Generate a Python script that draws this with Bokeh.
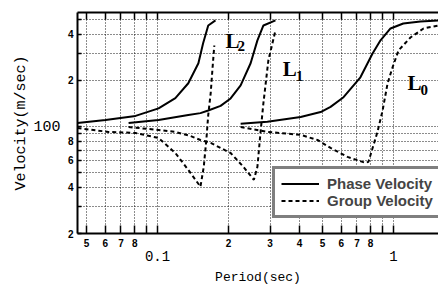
from bokeh.plotting import figure
from bokeh.models import (LogAxis, FixedTicker, CustomJSTickFormatter, Range1d,
                          Legend, LegendItem, Label)
from bokeh.embed import file_html
from bokeh.resources import INLINE

# ---- data ----
l2_phase_x = [0.0458, 0.0602, 0.0807, 0.101, 0.119, 0.135, 0.149, 0.156, 0.164, 0.176]
l2_phase_y = [105, 110, 117, 131, 153, 191, 258, 348, 455, 491]

l2_group_x = [0.0458, 0.0620, 0.0807, 0.101, 0.119, 0.135, 0.152, 0.157, 0.161, 0.164, 0.168, 0.171, 0.174]
l2_group_y = [97.5, 92, 90.5, 84, 67, 52, 40.4, 54.5, 81.5, 118.5, 165, 239, 337]

l1_phase_x = [0.0754, 0.101, 0.135, 0.152, 0.164, 0.185, 0.204, 0.225, 0.248, 0.265, 0.281, 0.316]
l1_phase_y = [105, 110, 118.5, 122, 127, 136, 152, 185, 258, 364, 455, 491]

l1_group_x = [0.0754, 0.101, 0.119, 0.138, 0.152, 0.168, 0.204, 0.231, 0.256, 0.265, 0.273, 0.281, 0.295, 0.311, 0.316]
l1_group_y = [99, 94.7, 92, 86.5, 81.5, 78, 67, 54.5, 44.8, 54.5, 90.5, 142, 270, 380, 422]

l0_phase_x = [0.225, 0.292, 0.404, 0.491, 0.541, 0.614, 0.724, 0.815, 0.881, 0.971, 1.10, 1.30, 1.55]
l0_phase_y = [104, 107, 115, 124, 134, 155, 209, 299, 364, 435, 469, 483, 491]

l0_group_x = [0.225, 0.292, 0.404, 0.476, 0.541, 0.638, 0.761, 0.783, 0.855, 0.898, 0.944, 0.991, 1.05, 1.18, 1.34, 1.55]
l0_group_y = [99, 92, 88, 81.5, 72.3, 63.2, 57.8, 58.7, 92, 126, 191, 243, 313, 380, 435, 455]

curve_names = ["L2", "L1", "L0"]
curve_label_main = ["L", "L", "L"]
curve_label_sub = ["2", "1", "0"]
curve_label_x = [0.194, 0.339, 1.146]
curve_label_y = [358, 235, 191]
curve_sub_x = [0.218, 0.385, 1.30]
curve_sub_y = [332, 212, 172]

x_ticks = [0.05, 0.06, 0.07, 0.08, 0.09, 0.1, 0.2, 0.3, 0.4, 0.5, 0.6, 0.7, 0.8, 0.9, 1.0]
x_tick_labels = ["5", "6", "7", "8", "", "", "2", "3", "4", "5", "6", "7", "8", "", ""]
x_major = [0.1, 1.0]
x_major_labels = ["0.1", "1"]
y_ticks = [20, 30, 40, 50, 60, 70, 80, 90, 100, 200, 300, 400, 500]
y_tick_labels = ["2", "", "4", "", "6", "", "8", "", "", "2", "", "4", ""]
y_major = [100]
y_major_labels = ["100"]

legend_labels = ["Phase Velocity", "Group Velocity"]


def fmt(tick_values, tick_texts):
    return CustomJSTickFormatter(args=dict(tv=tick_values, tl=tick_texts), code="""
for (let i = 0; i < tv.length; i++) {
  if (Math.abs(tv[i] - tick) <= 1e-6 * Math.abs(tv[i])) return tl[i];
}
return "";
""")


p = figure(width=438, height=287, x_axis_type="log", y_axis_type="log",
           x_range=Range1d(0.0458, 1.551), y_range=Range1d(20, 553),
           output_backend="svg", toolbar_location=None,
           min_border_left=77, min_border_right=0, min_border_top=12, min_border_bottom=0)
p.outline_line_color = None
p.background_fill_color = "white"

small_font = "Liberation Sans"

# inner x axis (small labels)
xa = p.xaxis[0]
xa.ticker = FixedTicker(ticks=x_ticks, minor_ticks=[])
xa.formatter = fmt(x_ticks, x_tick_labels)
xa.major_tick_in = 8
xa.major_tick_out = 0
xa.minor_tick_in = 0
xa.minor_tick_out = 0
xa.axis_line_width = 2
xa.major_tick_line_width = 1.5
xa.major_label_standoff = 5
xa.major_label_text_font = small_font
xa.major_label_text_font_style = "bold"
xa.major_label_text_font_size = "10px"
xa.major_label_text_color = "black"

# outer x axis (0.1, 1) with title
xo = LogAxis(ticker=FixedTicker(ticks=x_major, minor_ticks=[]),
             formatter=fmt(x_major, x_major_labels),
             axis_line_color=None, major_tick_line_color=None, minor_tick_line_color=None,
             major_tick_in=0, major_tick_out=0, minor_tick_in=0, minor_tick_out=0,
             major_label_standoff=1,
             major_label_text_font="Liberation Mono", major_label_text_font_size="14px",
             major_label_text_color="black",
             axis_label="Period(sec)", axis_label_standoff=6,
             axis_label_text_font="Liberation Mono", axis_label_text_font_size="13px",
             axis_label_text_font_style="normal", axis_label_text_color="black")
p.add_layout(xo, "below")

# top axis (ticks only)
xt = LogAxis(ticker=FixedTicker(ticks=x_ticks, minor_ticks=[]),
             formatter=fmt(x_ticks, ["" for _ in x_ticks]),
             axis_line_width=2, major_tick_in=7, major_tick_out=0,
             minor_tick_in=0, minor_tick_out=0, major_tick_line_width=1.5,
             major_label_standoff=0, major_label_text_font_size="0px")
p.add_layout(xt, "above")

# inner y axis
ya = p.yaxis[0]
ya.ticker = FixedTicker(ticks=y_ticks, minor_ticks=[])
ya.formatter = fmt(y_ticks, y_tick_labels)
ya.major_tick_in = 4
ya.major_tick_out = 0
ya.minor_tick_in = 0
ya.minor_tick_out = 0
ya.axis_line_width = 2
ya.major_tick_line_width = 1.5
ya.major_label_standoff = 4
ya.major_label_text_font = small_font
ya.major_label_text_font_style = "bold"
ya.major_label_text_font_size = "10px"
ya.major_label_text_color = "black"

yo = LogAxis(ticker=FixedTicker(ticks=y_major, minor_ticks=[]),
             formatter=fmt(y_major, y_major_labels),
             axis_line_color=None, major_tick_line_color=None, minor_tick_line_color=None,
             major_tick_in=0, major_tick_out=0, minor_tick_in=0, minor_tick_out=0,
             major_label_standoff=4,
             major_label_text_font="Liberation Mono", major_label_text_font_size="15px",
             major_label_text_color="black",
             axis_label="Velocity(m/sec)", axis_label_standoff=0,
             axis_label_text_font="Liberation Mono", axis_label_text_font_size="15px",
             axis_label_text_font_style="normal", axis_label_text_color="black")
p.add_layout(yo, "left")

# grids
p.xgrid.ticker = FixedTicker(ticks=x_ticks, minor_ticks=[])
p.ygrid.ticker = FixedTicker(ticks=y_ticks, minor_ticks=[])
for g in (p.xgrid[0], p.ygrid[0]):
    g.grid_line_color = "black"
    g.grid_line_dash = "1 2"
    g.grid_line_width = 1
    g.grid_line_alpha = 0.9

# curves
phase = []
group = []
for xs, ys in ((l2_phase_x, l2_phase_y), (l1_phase_x, l1_phase_y), (l0_phase_x, l0_phase_y)):
    phase.append(p.line(xs, ys, line_color="black", line_width=2))
for xs, ys in ((l2_group_x, l2_group_y), (l1_group_x, l1_group_y), (l0_group_x, l0_group_y)):
    group.append(p.line(xs, ys, line_color="black", line_width=2, line_dash="4 3"))

# curve labels
for i in range(len(curve_names)):
    p.add_layout(Label(x=curve_label_x[i], y=curve_label_y[i], text=curve_label_main[i],
                       text_font="Liberation Serif", text_font_style="bold",
                       text_font_size="21px", text_baseline="alphabetic", text_align="left",
                       text_color="black"))
    p.add_layout(Label(x=curve_sub_x[i], y=curve_sub_y[i], text=curve_label_sub[i],
                       text_font="Liberation Serif", text_font_style="bold",
                       text_font_size="15px", text_baseline="alphabetic", text_align="left",
                       text_color="black"))

legend = Legend(items=[LegendItem(label=legend_labels[0], renderers=[phase[0]]),
                       LegendItem(label=legend_labels[1], renderers=[group[0]])],
                location=(195, 15), border_line_color="black", border_line_width=3,
                padding=6, spacing=0, glyph_width=38, glyph_height=17, label_height=17,
                label_standoff=8, label_text_font="Liberation Sans",
                label_text_font_size="15px", label_text_font_style="bold",
                margin=0, background_fill_alpha=1)
p.add_layout(legend)

open("out.html", "w").write(file_html(p, INLINE))
